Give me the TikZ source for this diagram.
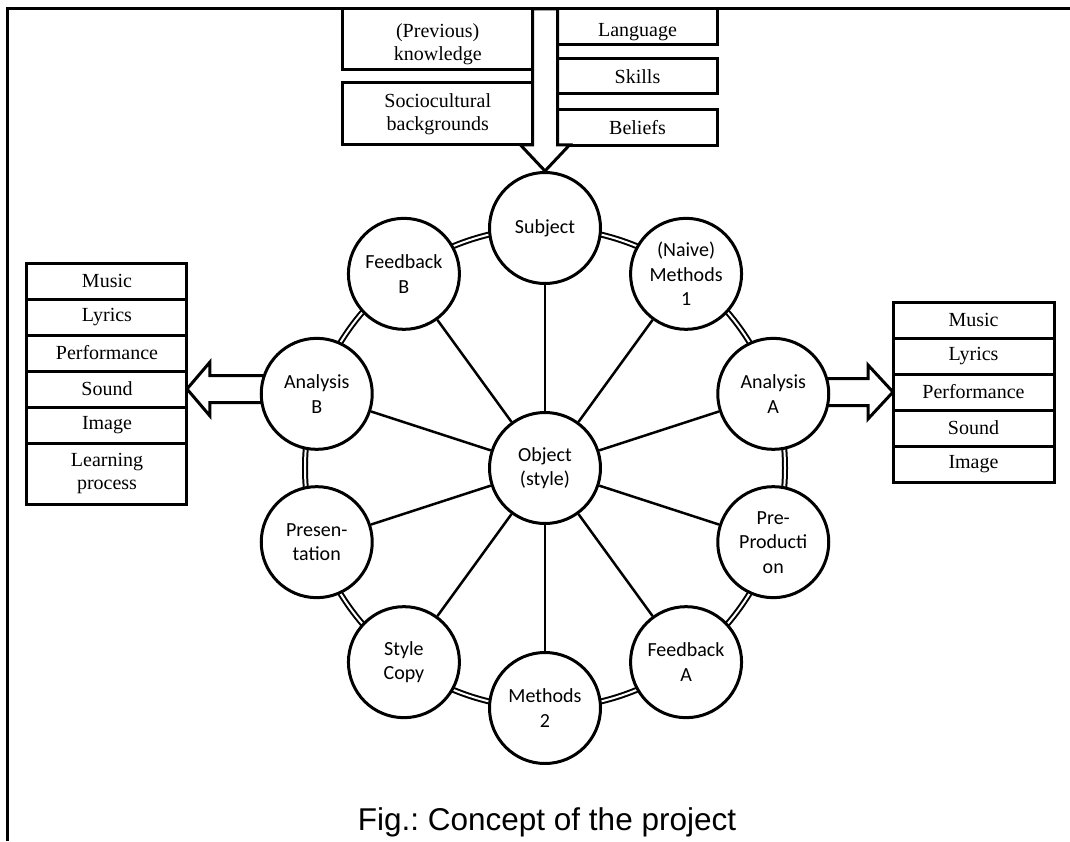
\documentclass[tikz,border=0pt]{standalone}
\usepackage{fontspec}
\setmainfont{Liberation Serif}
\newfontfamily\circfont{Carlito}
\newfontfamily\capfont{Liberation Sans}
\usepackage{tikz}
\usetikzlibrary{positioning,backgrounds,calc}
\tikzset{
  listbox/.style={rectangle,draw=black,line width=3pt,minimum width=160pt,
    minimum height=36pt,outer sep=0pt,inner sep=2pt,align=center,
    font=\fontsize{20}{23}\selectfont},
  stagenode/.style={circle,draw=black,line width=3pt,fill=white,
    minimum size=111pt,inner sep=0pt,align=center,
    font=\circfont\fontsize{20}{24.5}\selectfont},
  ringline/.style={double,line width=2pt,double distance=2pt},
  spoke/.style={line width=2.5pt},
  blockarrow/.style={draw=black,line width=3pt,fill=white,line join=miter},
  frameline/.style={line width=3pt},
}
\frenchspacing

\begin{document}
\begin{tikzpicture}[x=1pt,y=1pt,node distance=0pt]
  \useasboundingbox (-545,-373) rectangle (525,468);
  \draw[frameline] (-537,-373) -- (-537,459) -- (525,459);

  % top boxes
  \node[listbox, minimum width=189.5pt, minimum height=61pt, anchor=north east,
    text height=46pt, text depth=4.4pt]
    (prev) at (-12.5,459) {(Previous)\\knowledge};
  \node[listbox, minimum width=189.5pt, minimum height=62pt, below=13pt of prev]
    (social) {Sociocultural\\backgrounds};
  \node[listbox, anchor=north west, text height=24pt, text depth=5pt]
    (lang) at (12.5,459) {Language};
  \node[listbox, minimum height=35pt, below=14pt of lang] (skills) {Skills};
  \node[listbox, below=16pt of skills] (beliefs) {Beliefs};

  % left list
  \node[listbox, anchor=north] (lmusic) at (-438,205) {Music};
  \node[listbox, below=of lmusic] (llyrics) {Lyrics};
  \node[listbox, below=of llyrics] (lperf) {Performance};
  \node[listbox, below=of lperf] (lsound) {Sound};
  \node[listbox, below=of lsound] (limage) {Image};
  \node[listbox, minimum height=61pt, below=of limage] (llearn) {Learning\\process};

  % right list
  \node[listbox, minimum width=161pt, anchor=north] (rmusic) at (428.5,166) {Music};
  \node[listbox, minimum width=161pt, below=of rmusic] (rlyrics) {Lyrics};
  \node[listbox, minimum width=161pt, below=of rlyrics] (rperf) {Performance};
  \node[listbox, minimum width=161pt, below=of rperf] (rsound) {Sound};
  \node[listbox, minimum width=161pt, below=of rsound] (rimage) {Image};

  % side arrows
  \draw[blockarrow] (lsound.east) -- ++(23,27) -- ++(0,-13.5) -- ++(60,0)
    -- ++(0,-27) -- ++(-60,0) -- ++(0,-13.5) -- cycle;
  \draw[blockarrow] (rperf.west) -- ++(-25,27) -- ++(0,-13.5) -- ++(-60,0)
    -- ++(0,-27) -- ++(60,0) -- ++(0,-13.5) -- cycle;

  % circles
  \node[stagenode] (obj) at (0,0) {Object\\(style)};
  \node[stagenode] (subj) at (90:240) {Subject};
  \node[stagenode] (meth1) at (54:240) {(Naive)\\Methods\\1};
  \node[stagenode] (ana) at (18:240) {Analysis\\A};
  \node[stagenode] (prepro) at (-18:240) {Pre-\\Producti\\on};
  \node[stagenode] (feeda) at (-54:240) {Feedback\\A};
  \node[stagenode] (meth2) at (-90:240) {Methods\\2};
  \node[stagenode] (copy) at (-126:240) {Style\\Copy};
  \node[stagenode] (pres) at (-162:240) {Presen-\\tation};
  \node[stagenode] (anb) at (162:240) {Analysis\\B};
  \node[stagenode] (feedb) at (126:240) {Feedback\\B};

  \begin{scope}[on background layer]
    \draw[ringline] (obj.center) circle[radius=240];
  \end{scope}

  \draw[spoke] (obj) -- (subj);
  \draw[spoke] (obj) -- (meth1);
  \draw[spoke] (obj) -- (ana);
  \draw[spoke] (obj) -- (prepro);
  \draw[spoke] (obj) -- (feeda);
  \draw[spoke] (obj) -- (meth2);
  \draw[spoke] (obj) -- (copy);
  \draw[spoke] (obj) -- (pres);
  \draw[spoke] (obj) -- (anb);
  \draw[spoke] (obj) -- (feedb);

  % top arrow
  \draw[blockarrow] (prev.north east) -- (prev.north east |- social.south)
    -- ++(-12,0) -- (subj.north) -- ($(lang.north west |- social.south)+(12,0)$)
    -- (lang.north west |- social.south) -- (lang.north west) -- cycle;

  \node[font=\capfont\fontsize{31.5}{36}\selectfont] (caption) at (2,-354)
    {Fig.: Concept of the project};
\end{tikzpicture}
\end{document}
